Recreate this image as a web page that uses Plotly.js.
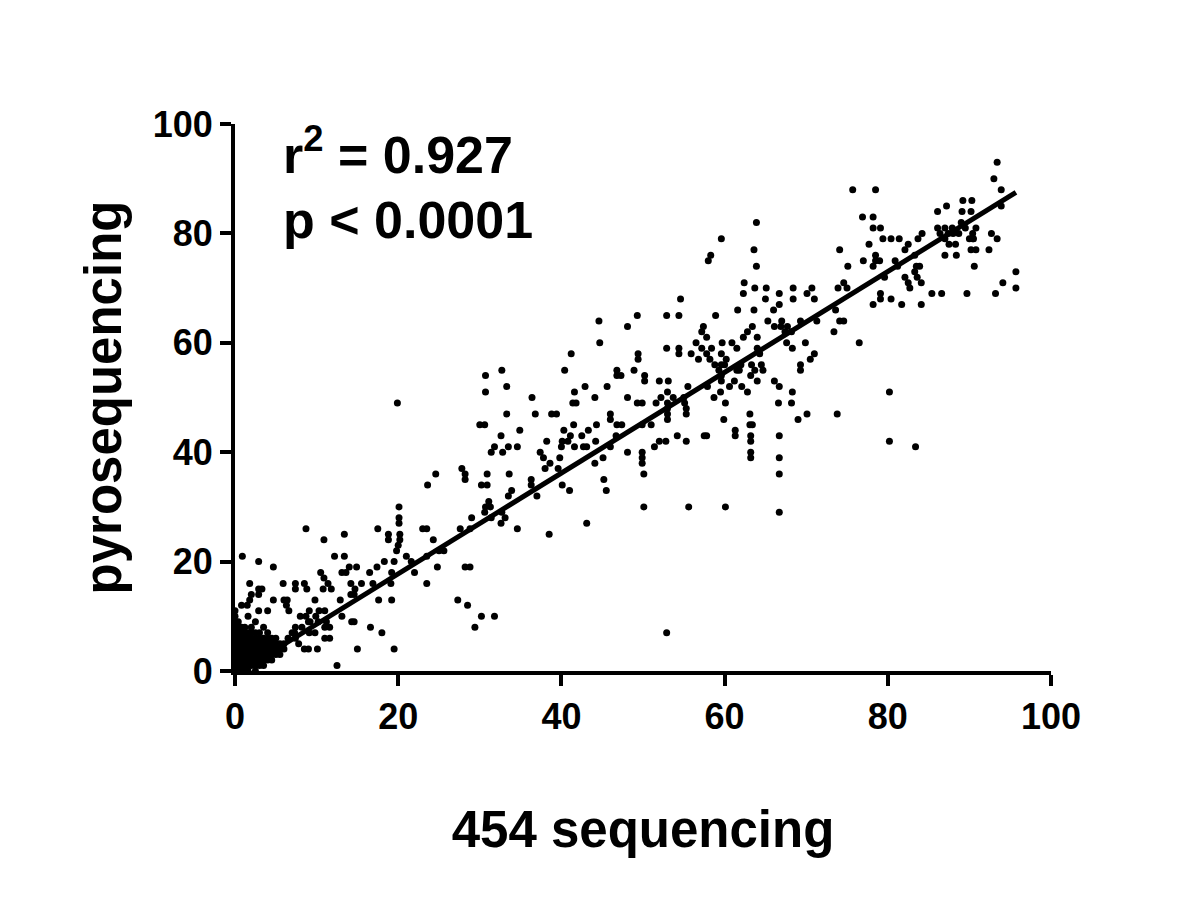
<!DOCTYPE html>
<html>
<head>
<meta charset="utf-8">
<script src="https://cdn.plot.ly/plotly-3.0.1.min.js"></script>
<style>
  html, body { margin: 0; padding: 0; background: #fff; }
  #plot { width: 1200px; height: 919px; }
</style>
</head>
<body>
<div id="plot"></div>
<script>
// ---------- Data (x = 454 sequencing %, y = pyrosequencing %) ----------
// dense cluster near the origin
const ptsCluster = [
  [0,0],[0,1],[0,2],[0,3],[0,4],[0,5],[0,6],[0,7],[0,8],[0,9],[0,10],[0,11],
  [0.4,0],[0.4,1],[0.4,2],[0.4,3],[0.4,4],[0.4,5],[0.4,6],[0.4,7],[0.4,8],[0.4,9],
  [0.8,0],[0.8,1],[0.8,2],[0.8,3],[0.8,4],[0.8,5],[0.8,6],[0.8,7],[0.8,8],[0.8,12],
  [1.2,0],[1.2,1],[1.2,2],[1.2,3],[1.2,4],[1.2,5],[1.2,6],[1.2,7],[1.2,8],
  [1.6,0],[1.6,1],[1.6,2],[1.6,3],[1.6,4],[1.6,5],[1.6,6],[1.6,7],[1.6,10],
  [2.0,1],[2.0,2],[2.0,3],[2.0,4],[2.0,5],[2.0,6],[2.0,7],[2.0,8],
  [2.5,0],[2.5,1],[2.5,2],[2.5,3],[2.5,4],[2.5,5],[2.5,6],[2.5,7],[2.5,9],
  [3.0,1],[3.0,2],[3.0,3],[3.0,4],[3.0,5],[3.0,6],[3.0,7],
  [3.5,1],[3.5,2],[3.5,3],[3.5,4],[3.5,5],[3.5,6],[3.5,8],
  [4.0,2],[4.0,3],[4.0,4],[4.0,5],[4.0,6],[4.0,7],
  [4.5,2],[4.5,3],[4.5,4],[4.5,5],[4.5,6],
  [5.0,3],[5.0,4],[5.0,5],[5.0,6],[5.5,3],[5.5,4],[5.5,5],[6.0,4],[6.0,5]
];
// low range, x < 24
const ptsLow = [
  [8.7,26],[0.9,21],[2.9,20],[4.7,19],[10.9,24],[13.4,25],[17.5,26],[20.1,28],[20.1,27],
  [18.8,25],[18.8,24],[20.2,25],[20.2,24],[20.0,23],[19.8,22],[23.0,26],[12.2,21],[13.4,21],
  [18.3,20],[19.5,20],[21.0,21],[14.0,19],[14.9,19],[13.1,18],[13.6,18],[16.5,18],[17.4,19],
  [10.5,18],[10.9,17],[22.0,18],[1.8,16],[2.9,15],[3.3,15],[2.0,14],[2.9,14],[5.9,16],
  [7.4,16],[7.4,15],[8.5,16],[8.8,15],[10.8,15],[11.8,15],[11.4,16],[14.2,16],[15.5,16],
  [14.2,14],[14.6,14],[19.1,16],[1.8,13],[4.7,13],[6.0,13],[6.4,13],[9.8,13],[17.6,13],
  [19.2,13],[1.5,12],[2.9,11],[4.0,11],[6.3,12],[6.6,11],[9.1,11],[10.3,11],[8.0,10],
  [8.7,10],[9.0,9],[9.9,10],[10.2,9],[11.2,9],[13.1,10],[14.3,9],[14.6,9],[7.4,8],[8.2,8],
  [9.1,7],[9.8,7],[11.0,8],[11.6,8],[16.6,8],[18.0,7],[11.0,6],[11.6,6],[7.0,7],[7.4,6],
  [7.8,5],[8.5,4],[9.0,4],[10.1,4],[15.0,4],[19.5,4],[12.5,1],
  [6.5,6],[7.3,7],[9.2,9],[11.0,11],[12.9,13],[14.7,15],[16.9,16],[19.2,18],[21.6,20],
  [19.9,49],[20.1,30],[23.5,16],[23.5,21],[23.5,26],[24.3,24],[25.0,22],[25.6,22],[24.8,19]
];
// middle range, 24 <= x < 48
const ptsMid = [
  [27.6,26],[29.0,28],[30.6,29],[31.3,30],[31.4,28],[32.6,27],[33.1,28],[32.7,29],[34.6,26],
  [38.5,25],[43.1,27],[28.8,26],[28.2,19],[28.8,19],[27.3,13],[28.5,12],[30.2,10],[31.8,10],
  [29.4,8],
  [44.6,64],[44.7,60],[41.2,58],[32.7,55],[30.7,54],[40.4,55],[46.8,55],[46.8,54],[47.3,54],
  [30.7,51],[33.3,52],[41.6,51],[42.9,52],[45.6,52],[36.4,50],[41.4,49],[41.8,49],[44.1,50],
  [33.3,47],[36.8,47],[38.8,47],[39.4,47],[46.0,47],[46.0,46],[30.0,45],[30.6,45],[41.5,45],
  [44.3,45],[46.8,45],[47.4,45],[34.9,44],[40.3,44],[43.3,44],[32.6,43],[41.1,43],[42.5,43],
  [38.2,42],[40.1,42],[40.8,42],[44.2,42],[46.7,43],[31.8,41],[33.5,41],[34.6,41],[40.0,41],
  [41.6,41],[42.7,41],[43.1,41],[46.0,41],[31.4,40],[32.8,40],[37.4,40],[37.8,39],[39.8,39],
  [45.1,39],[38.6,38],[44.1,38],[27.8,37],[38.0,37],[39.6,37],[24.6,36],[28.2,36],[28.2,35],
  [30.9,36],[33.6,36],[23.6,34],[30.2,34],[30.9,34],[36.3,35],[40.1,34],[45.2,35],[41.0,33],
  [45.5,33],[33.9,33],[37.0,32],[31.1,31],[30.7,30],[33.5,32],[36.3,34]
];
// upper-middle range, 48 <= x < 72
const ptsUpper = [
  [63.9,82],[59.6,79],[58.3,76],[58.0,75],[63.6,77],[63.9,74],[62.4,71],[62.3,69],[63.7,70],
  [65.1,70],[68.4,70],[70.7,70],[70.1,69],[71.0,68],[66.7,69],[65.0,68],[68.4,68],[66.7,67],
  [54.6,68],[61.6,66],[63.6,66],[66.0,66],[49.3,65],[52.9,65],[54.4,65],[58.9,65],[48.1,63],
  [57.4,63],[63.4,63],[65.3,64],[67.0,64],[66.1,63],[66.9,63],[67.7,63],[69.3,64],[71.3,64],
  [57.2,62],[57.8,61],[62.8,62],[62.3,61],[64.0,61],[67.4,62],[68.2,62],[52.9,59],[54.4,59],
  [54.4,58],[56.5,60],[59.7,60],[60.9,60],[69.9,60],[67.6,60],[49.4,58],[49.4,57],[55.9,58],
  [57.2,59],[57.8,58],[58.4,59],[59.6,58],[61.5,59],[64.0,59],[64.3,58],[68.3,59],[71.0,58],
  [56.8,57],[58.2,57],[60.2,57],[70.5,57],[58.8,56],[59.6,56],[60.0,56],[62.0,56],[63.3,56],
  [64.5,56],[64.7,55],[69.3,56],[69.3,55],[48.9,55],[59.3,55],[61.5,55],[61.8,55],[63.7,55],
  [50.2,54],[50.2,53],[59.6,54],[63.2,54],[52.0,53],[53.1,53],[59.6,53],[61.2,53],[64.0,53],
  [66.1,53],[55.5,52],[57.9,52],[60.6,52],[62.1,52],[66.7,52],[53.0,51],[52.2,50],[59.5,51],
  [62.8,51],[68.3,51],[48.1,50],[53.7,50],[55.0,50],[58.7,50],[49.3,49],[49.9,49],[51.6,49],
  [53.0,49],[53.0,48],[55.1,49],[60.1,49],[66.6,49],[68.2,49],[55.3,48],[55.3,47],[53.0,47],
  [53.0,46],[49.9,45],[51.0,45],[59.9,46],[63.1,47],[69.0,46],[70.1,47],[63.1,45],[63.4,45],
  [61.3,44],[61.3,43],[63.2,43],[63.2,42],[54.2,43],[57.5,43],[57.8,43],[66.7,43],[52.0,42],
  [52.8,42],[55.3,42],[51.4,41],[48.1,40],[49.9,40],[49.9,39],[49.9,38],[63.2,40],[63.2,39],
  [66.7,39],[50.1,36],[66.7,36],[50.1,30],[55.6,30],[60.1,30],[66.7,29],[52.9,7]
];
// high range, x >= 72
const ptsHigh = [
  [93.4,93],[93.0,90],[93.9,88],[75.7,88],[78.5,88],[89.2,86],[90.3,86],[87.2,85],[86.1,84],
  [89.1,84],[90.2,84],[76.9,83],[78.2,83],[89.0,82],[89.5,81],[93.9,85],[78.2,81],[79.1,81],
  [86.1,81],[87.0,81],[90.8,81],[87.9,81],[88.7,80],[84.2,80],[86.4,80],[87.4,80],[88.0,80],
  [90.4,80],[90.5,79],[92.7,80],[79.4,79],[80.4,79],[81.4,79],[83.7,79],[87.0,79],[87.5,78],
  [90.0,79],[90.4,79],[93.4,79],[82.5,78],[77.7,78],[88.3,78],[74.1,77],[82.1,77],[90.2,77],
  [90.8,77],[92.4,77],[78.5,76],[83.3,76],[87.0,76],[88.4,76],[77.0,75],[78.5,75],[79.0,75],
  [80.9,75],[78.2,74],[81.2,74],[83.5,74],[83.9,74],[90.6,74],[75.1,74],[83.3,73],[95.7,73],
  [79.6,72],[82.1,72],[83.6,72],[74.6,71],[73.9,70],[75.0,70],[82.5,71],[84.1,71],[94.1,71],
  [82.7,70],[95.7,70],[79.1,69],[79.1,68],[85.4,69],[86.6,69],[89.7,69],[93.2,69],[80.4,68],
  [78.2,67],[81.7,67],[84.1,67],[73.6,66],[74.1,64],[74.6,64],[73.4,62],[76.5,60],[80.2,51],
  [73.8,47],[80.2,42],[83.4,41]
];
// linear regression shown in the figure
const fitSlope = 0.921;
const fitIntercept = -0.65;
const statLines = ['r<sup>2</sup> = 0.927', 'p &lt; 0.0001'];
const tickVals = [0, 20, 40, 60, 80, 100];

// ---------- Build traces ----------
const allPts = [].concat(ptsCluster, ptsLow, ptsMid, ptsUpper, ptsHigh);
const xs = allPts.map(p => p[0]);
const ys = allPts.map(p => p[1]);
const xMin = Math.min(...xs), xMax = Math.max(...xs);

const font = 'Liberation Sans, Arial, Helvetica, sans-serif';

const scatter = {
  x: xs, y: ys, type: 'scatter', mode: 'markers',
  marker: { color: '#000', size: 7 },
  cliponaxis: false, hoverinfo: 'x+y'
};
const fit = {
  x: [xMin, xMax],
  y: [fitIntercept + fitSlope * xMin, fitIntercept + fitSlope * xMax],
  type: 'scatter', mode: 'lines',
  line: { color: '#000', width: 5 }, hoverinfo: 'skip'
};

const axisCommon = {
  range: [0, 100], tickvals: tickVals, ticks: 'outside', ticklen: 11, tickwidth: 4,
  tickcolor: '#000', showline: true, linecolor: '#000', linewidth: 4,
  showgrid: false, zeroline: false, fixedrange: true,
  tickfont: { family: font, size: 36, weight: 'bold', color: '#000' }
};

const layout = {
  width: 1200, height: 919,
  margin: { l: 235, r: 149, t: 124, b: 248 },
  paper_bgcolor: '#fff', plot_bgcolor: '#fff',
  showlegend: false,
  xaxis: Object.assign({}, axisCommon, {
    title: { text: '454 sequencing', font: { family: font, size: 51, weight: 'bold', color: '#000' }, standoff: 76 }
  }),
  yaxis: Object.assign({}, axisCommon, {
    title: { text: 'pyrosequencing', font: { family: font, size: 51, weight: 'bold', color: '#000' }, standoff: 16 }
  }),
  annotations: statLines.map((t, i) => ({
    text: t, xref: 'x', yref: 'y', x: 5.6, y: i === 0 ? 95 : 82.5,
    xanchor: 'left', yanchor: 'middle', showarrow: false,
    font: { family: font, size: 52, weight: 'bold', color: '#000' }
  }))
};

Plotly.newPlot('plot', [scatter, fit], layout, { displayModeBar: false, staticPlot: true });
</script>
</body>
</html>
